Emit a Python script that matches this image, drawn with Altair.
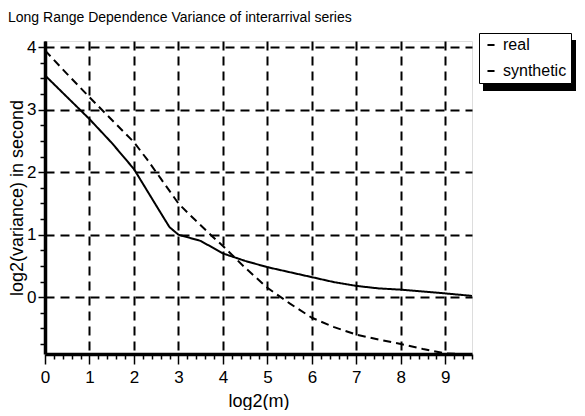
import altair as alt
import pandas as pd

# data
x_vals = [0, 0.5, 1, 1.5, 2, 2.3, 2.6, 2.8, 3, 3.25, 3.5, 3.75, 4, 4.5, 5, 5.5, 6, 6.5, 7, 7.5, 8, 8.5, 9, 9.6]
real = [3.55, 3.2, 2.85, 2.47, 2.05, 1.7, 1.35, 1.12, 1.0, 0.95, 0.9, 0.8, 0.7, 0.58, 0.48, 0.4, 0.32, 0.24, 0.18, 0.14, 0.12, 0.09, 0.06, 0.02]
synthetic = [3.95, 3.57, 3.2, 2.84, 2.48, 2.2, 1.9, 1.7, 1.5, 1.32, 1.15, 0.98, 0.82, 0.47, 0.15, -0.1, -0.33, -0.48, -0.6, -0.68, -0.75, -0.83, -0.9, -0.92]
series_names = ["real", "synthetic"]

rows = []
for x, r, s in zip(x_vals, real, synthetic):
    rows.append({"m": x, "v": r, "series": "real"})
    rows.append({"m": x, "v": s, "series": "synthetic"})
df = pd.DataFrame(rows)

x_ticks = [round(i * 0.2, 2) for i in range(0, 49)]
y_ticks = [round(-0.75 + i * 0.25, 2) for i in range(0, 20)]
is_int = "abs(datum.value - round(datum.value)) < 0.01"
FONT = "Liberation Sans"

LEG_X, LEG_Y = 434, -8
LEG_W, LEG_H = 93, 51


def axis(title_pad, lab_pad, tick_major):
    return dict(
        labelExpr=f"{is_int} ? format(datum.value, 'd') : ''",
        labelOverlap=False, labelFlush=False,
        tickSize={"condition": {"test": is_int, "value": tick_major}, "value": 5},
        gridOpacity={"condition": {"test": is_int, "value": 1}, "value": 0},
        grid=True, gridColor="black", gridDash=[9, 6], gridWidth=2,
        domainColor="black", domainWidth=3.5, tickColor="black", tickWidth=1.5,
        labelFontSize=17, titleFontSize=18, labelColor="black", titleColor="black",
        labelFont=FONT, titleFont=FONT, titleFontWeight="normal", labelPadding=lab_pad,
        titlePadding=title_pad)


lines = alt.Chart(df).mark_line(strokeWidth=2, clip=True, color="black").encode(
    x=alt.X("m:Q", title="log2(m)",
            scale=alt.Scale(domain=[0, 9.6], nice=False, zero=False),
            axis=alt.Axis(values=x_ticks, **axis(7, 5, 10))),
    y=alt.Y("v:Q", title="log2(variance) in second",
            scale=alt.Scale(domain=[-0.91, 4.1], nice=False, zero=False),
            axis=alt.Axis(values=y_ticks, **axis(0, 2, 7))),
    strokeDash=alt.StrokeDash("series:N",
                              scale=alt.Scale(domain=series_names, range=[[1, 0], [8, 5]]),
                              legend=alt.Legend(title=None, orient="none", legendX=LEG_X, legendY=LEG_Y,
                                                symbolType="stroke", symbolSize=50,
                                                symbolStrokeWidth=2, symbolStrokeColor="black",
                                                labelFontSize=16, labelFont=FONT, labelColor="black",
                                                strokeColor="black", fillColor="white",
                                                padding=4, rowPadding=10, symbolOffset=0,
                                                labelOffset=4)),
)

shadow = alt.Chart(alt.Data(values=[{"k": 1}])).mark_rect(color="black", clip=False).encode(
    x=alt.value(LEG_X + 4), x2=alt.value(LEG_X + 4 + LEG_W),
    y=alt.value(LEG_Y + 7), y2=alt.value(LEG_Y + 7 + LEG_H),
)

chart = alt.layer(shadow, lines).properties(
    width=427, height=313,
    title=alt.TitleParams("Long Range Dependence Variance of interarrival series",
                          anchor="start", frame="group", fontSize=14, font=FONT,
                          fontWeight="normal", color="black", offset=8, dx=-37),
).configure_view(stroke="black", strokeWidth=2).configure(
    padding={"left": 0, "top": 2, "right": 0, "bottom": 0})

chart.save("out.html", embed_options={"renderer": "svg", "actions": False})
